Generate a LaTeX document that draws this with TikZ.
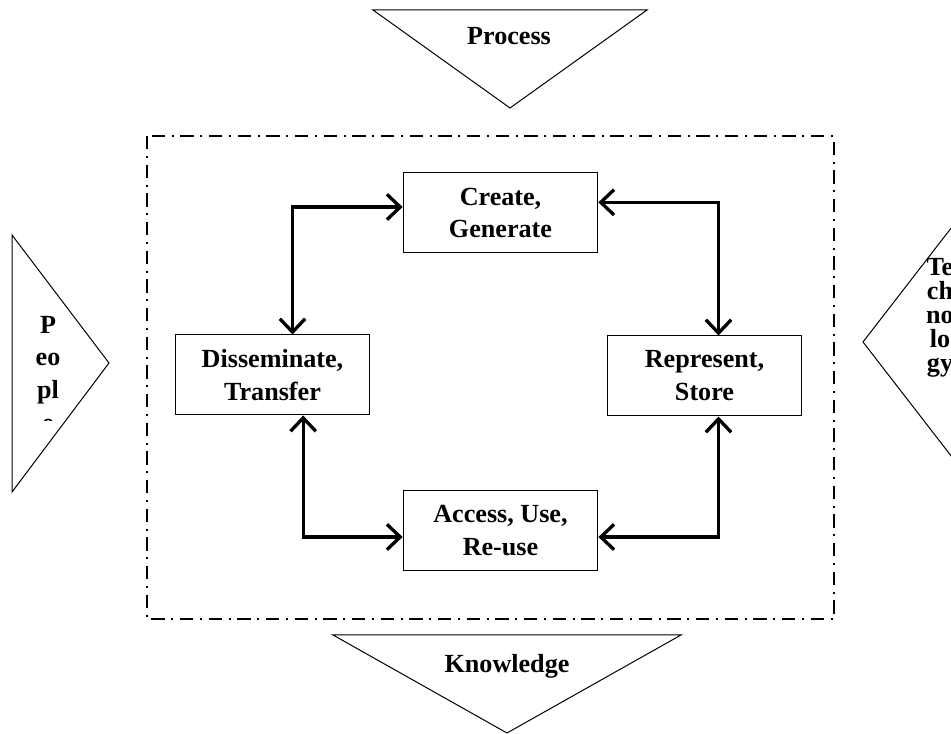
\documentclass[tikz,border=0pt]{standalone}
\usepackage{fontspec}
\setmainfont{Liberation Serif}
\usetikzlibrary{arrows.meta}

\tikzset{
  stage/.style={draw, line width=0.75pt, minimum width=146pt, minimum height=60pt,
                inner sep=2pt, align=center},
  flow/.style={line width=2.5pt,
               {Straight Barb[length=10pt,width=19pt]}-{Straight Barb[length=10pt,width=19pt]}},
  frame/.style={line width=1.1pt, dash pattern=on 10pt off 5pt on 1.5pt off 5pt},
  wedge/.style={line width=0.75pt},
}

\begin{document}
\begin{tikzpicture}[x=0.75pt, y=-0.75pt,
    font=\fontsize{19.6}{24.7}\selectfont\bfseries]
  \useasboundingbox (0,0) rectangle (951,734);
  \clip (0,0) rectangle (951,734);

  % outer wedges
  \draw[wedge] (373,10) -- (647,10) -- (510,108) -- cycle;
  \node[anchor=base] (process) at (509,45) {Process};
  \draw[wedge] (333,635) -- (681,635) -- (507,733) -- cycle;
  \node[anchor=base] (knowledge) at (507,672) {Knowledge};
  \draw[wedge] (12,235) -- (109,363) -- (12,492) -- cycle;
  \begin{scope}
    \clip (0,0) rectangle (951,421);
    \node[align=center, inner sep=0pt] (people) at (48,374) {P\\eo\\pl\\e};
  \end{scope}
  \draw[wedge] (962,214) -- (863,342) -- (962,470);
  \node[align=center, inner sep=0pt,
        font=\fontsize{19.6}{18}\selectfont\bfseries] (technology) at (940,318)
    {Te\\ch\\no\\lo\\gy};

  % cycle
  \draw[frame] (147,136) rectangle (834,619);
  \node[stage] (create) at (500.5,213) {Create,\\Generate};
  \node[stage] (dissem) at (272.5,375) {Disseminate,\\Transfer};
  \node[stage] (repr)   at (704.5,376) {Represent,\\Store};
  \node[stage] (access) at (500.5,531) {Access, Use,\\Re-use};

  \draw[flow] ([yshift=4.5pt]create.west) -| ([xshift=15pt]dissem.north);
  \draw[flow] ([yshift=8pt]create.east) -| ([xshift=10.5pt]repr.north);
  \draw[flow] ([xshift=23pt]dissem.south) |- ([yshift=-4.5pt]access.west);
  \draw[flow] ([yshift=-4.5pt]access.east) -| ([xshift=10.5pt]repr.south);
\end{tikzpicture}
\end{document}
